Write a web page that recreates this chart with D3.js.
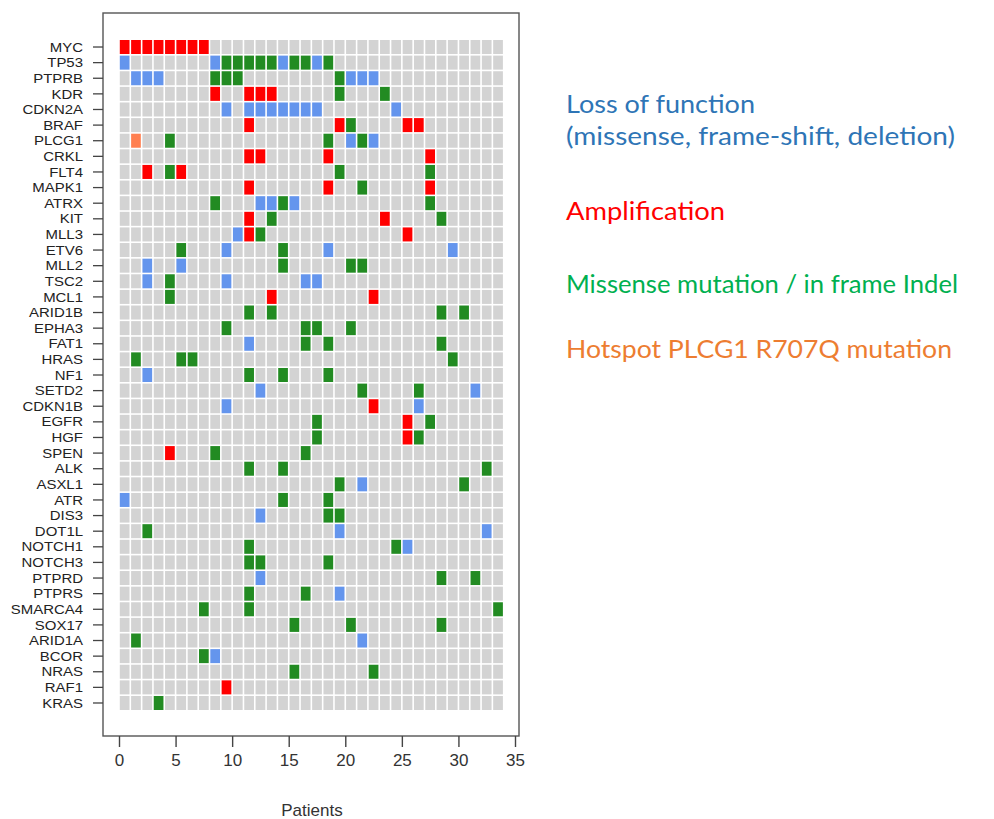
<!DOCTYPE html>
<html>
<head>
<meta charset="utf-8">
<script src="https://cdn.jsdelivr.net/npm/d3@7"></script>
<style>
  html, body { margin: 0; padding: 0; background: #fff; }
  svg { display: block; }
</style>
</head>
<body>
<svg id="chart" width="994" height="819"></svg>
<script>
// ---------- data ----------
const genes = ["MYC","TP53","PTPRB","KDR","CDKN2A","BRAF","PLCG1","CRKL","FLT4","MAPK1",
  "ATRX","KIT","MLL3","ETV6","MLL2","TSC2","MCL1","ARID1B","EPHA3","FAT1","HRAS","NF1",
  "SETD2","CDKN1B","EGFR","HGF","SPEN","ALK","ASXL1","ATR","DIS3","DOT1L","NOTCH1",
  "NOTCH3","PTPRD","PTPRS","SMARCA4","SOX17","ARID1A","BCOR","NRAS","RAF1","KRAS"];
const nPatients = 34;
const xTicks = [0, 5, 10, 15, 20, 25, 30, 35];

// patient column indices (0-based) per gene, for each alteration type
const amplification = [
  ["MYC",[0,1,2,3,4,5,6,7]], ["KDR",[8,11,12,13]], ["BRAF",[11,19,25,26]],
  ["CRKL",[11,12,18,27]], ["FLT4",[2,5]], ["MAPK1",[11,18,27]], ["KIT",[11,23]],
  ["MLL3",[11,25]], ["MCL1",[13,22]], ["CDKN1B",[22]], ["EGFR",[25]], ["HGF",[25]],
  ["SPEN",[4]], ["RAF1",[9]]
];
const lossOfFunction = [
  ["TP53",[0,8,14,17]], ["PTPRB",[1,2,3,20,21,22]], ["CDKN2A",[9,11,12,13,14,15,16,17,24]],
  ["PLCG1",[20,22]], ["ATRX",[12,13,15]], ["MLL3",[10]], ["ETV6",[9,18,29]], ["MLL2",[2,5]],
  ["TSC2",[2,9,16,17]], ["FAT1",[11]], ["NF1",[2]], ["SETD2",[12,31]], ["CDKN1B",[9,26]],
  ["ASXL1",[21]], ["ATR",[0]], ["DIS3",[12]], ["DOT1L",[19,32]], ["NOTCH1",[25]],
  ["PTPRD",[12]], ["PTPRS",[19]], ["ARID1A",[21]], ["BCOR",[8]]
];
const missense = [
  ["TP53",[9,10,11,12,13,15,16,18]], ["PTPRB",[8,9,10,19]], ["KDR",[19,23]], ["BRAF",[20]],
  ["PLCG1",[4,18,21]], ["FLT4",[4,19,27]], ["MAPK1",[21]], ["ATRX",[8,14,27]], ["KIT",[13,28]],
  ["MLL3",[12]], ["ETV6",[5,14]], ["MLL2",[14,20,21]], ["TSC2",[4]], ["MCL1",[4]],
  ["ARID1B",[11,13,28,30]], ["EPHA3",[9,16,17,20]], ["FAT1",[16,18,28]], ["HRAS",[1,5,6,29]],
  ["NF1",[11,14,18]], ["SETD2",[21,26]], ["EGFR",[17,27]], ["HGF",[17,26]], ["SPEN",[8,16]],
  ["ALK",[11,14,32]], ["ASXL1",[19,30]], ["ATR",[14,18]], ["DIS3",[18,19]], ["DOT1L",[2]],
  ["NOTCH1",[11,24]], ["NOTCH3",[11,12,18]], ["PTPRD",[28,31]], ["PTPRS",[11,16]],
  ["SMARCA4",[7,11,33]], ["SOX17",[15,20,28]], ["ARID1A",[1]], ["BCOR",[7]],
  ["NRAS",[15,22]], ["KRAS",[3]]
];
const hotspot = [["PLCG1",[1]]];

const legendLines = [
  ["Loss of function", "loss"],
  ["(missense, frame-shift, deletion)", "loss"],
  ["Amplification", "amp"],
  ["Missense mutation / in frame Indel", "mis"],
  ["Hotspot PLCG1 R707Q mutation", "hot"]
];

// ---------- styles ----------
const cellColor = { none: "#d3d3d3", amp: "#ff0000", loss: "#6495ed", mis: "#228b22", hot: "#ff7f50" };
const legendColor = { loss: "#2e75b6", amp: "#ff0000", mis: "#00b050", hot: "#ed7d31" };

// ---------- build cells ----------
const cells = [];
genes.forEach(g => d3.range(nPatients).forEach(p => cells.push({ gene: g, col: p, type: "none" })));
const cellIndex = new Map(cells.map(c => [c.gene + "|" + c.col, c]));
function apply(list, type) {
  list.forEach(([g, cols]) => cols.forEach(c => { cellIndex.get(g + "|" + c).type = type; }));
}
apply(amplification, "amp");
apply(lossOfFunction, "loss");
apply(missense, "mis");
apply(hotspot, "hot");

// ---------- layout ----------
const svg = d3.select("#chart");
const box = { left: 103, right: 519, top: 13, bottom: 736 };
const x = d3.scaleLinear().domain([0, 35]).range([119, 515]);
const y = d3.scaleBand().domain(genes).range([39.2, 710.8]).padding(0);
const gap = 0.8;

svg.append("g").selectAll("rect").data(cells).join("rect")
  .attr("x", d => x(d.col) + gap)
  .attr("y", d => y(d.gene) + gap)
  .attr("width", d => x(d.col + 1) - x(d.col) - 2 * gap)
  .attr("height", y.bandwidth() - 2 * gap)
  .attr("fill", d => cellColor[d.type]);

// frame
svg.append("rect")
  .attr("x", box.left).attr("y", box.top)
  .attr("width", box.right - box.left).attr("height", box.bottom - box.top)
  .attr("fill", "none").attr("stroke", "#555").attr("stroke-width", 1.4);

// x axis
const xAxis = svg.append("g")
  .attr("transform", `translate(0,${box.bottom})`)
  .call(d3.axisBottom(x).tickValues(xTicks).tickSize(11).tickPadding(7).tickFormat(d3.format("d")));
xAxis.select(".domain").remove();
xAxis.selectAll("line").attr("stroke", "#444").attr("stroke-width", 1.4);
xAxis.selectAll("text").attr("font-family", "'Liberation Sans', Arial, sans-serif")
  .attr("font-size", 17).attr("fill", "#333");

// y axis
const yAxis = svg.append("g")
  .attr("transform", `translate(${box.left},0)`)
  .call(d3.axisLeft(y).tickSize(10).tickPadding(0));
yAxis.select(".domain").remove();
yAxis.selectAll("line").attr("stroke", "#444").attr("stroke-width", 1.3);
yAxis.selectAll(".tick text").each(function () {
  const t = d3.select(this);
  t.attr("x", null).attr("dy", null)
   .attr("text-anchor", "end")
   .attr("dominant-baseline", "central")
   .attr("font-family", "'Liberation Sans', Arial, sans-serif")
   .attr("font-size", 13)
   .attr("fill", "#222")
   .attr("transform", "translate(-20,0) scale(1.15,1)");
});

// x axis title
svg.append("text")
  .attr("x", (x(0) + x(35)) / 2 - 5).attr("y", 816)
  .attr("text-anchor", "middle")
  .attr("font-family", "'Liberation Sans', Arial, sans-serif")
  .attr("font-size", 17).attr("fill", "#333")
  .text("Patients");

// legend text
const legendY = [113, 145, 220, 293, 358];
const legendW = [189, 389, 159, 392, 386];
svg.append("g").selectAll("text").data(legendLines).join("text")
  .attr("x", 566)
  .attr("y", (d, i) => legendY[i])
  .attr("font-family", "Lato, 'Open Sans', sans-serif")
  .attr("font-size", 25)
  .attr("fill", d => legendColor[d[1]])
  .attr("textLength", (d, i) => legendW[i])
  .attr("lengthAdjust", "spacingAndGlyphs")
  .text(d => d[0]);
</script>
</body>
</html>
